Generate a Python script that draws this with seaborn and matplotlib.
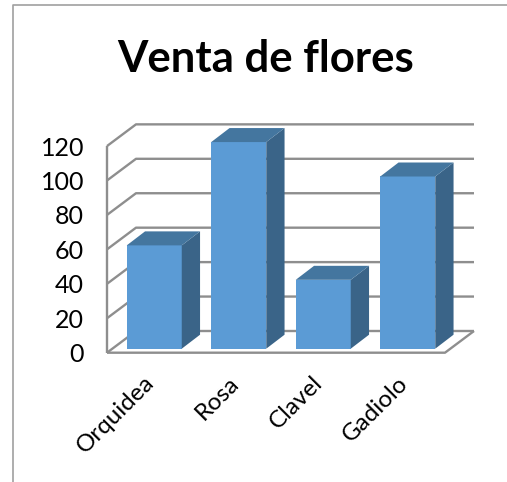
import matplotlib
matplotlib.use("Agg")
import matplotlib.pyplot as plt
from matplotlib.lines import Line2D
from matplotlib.patches import Polygon
from matplotlib.transforms import ScaledTranslation
import numpy as np
import pandas as pd
import seaborn as sns

categories = ["Orquidea", "Rosa", "Clavel", "Gadiolo"]
values = [60, 120, 40, 100]
y_ticks = [0, 20, 40, 60, 80, 100, 120]
title_text = "Venta de flores"

FRONT = "#5B9BD5"
TOP = "#44769F"
SIDE = "#3A6488"
GRID = "#8E8E8E"
FRAME = "#A0A0A0"

W, H = 507, 482
PX_X = 84.5    # pixels per category
PX_Y = 1.722   # pixels per value unit
AX_L, AX_R, AX_B, AX_T = 107, 474, 352.7, 124.3

sns.set_theme(style="white")
plt.rcParams["font.family"] = ["Lato", "DejaVu Sans"]

fig = plt.figure(figsize=(W / 100, H / 100), dpi=100)
ax = fig.add_axes([AX_L / W, 1 - AX_B / H, (AX_R - AX_L) / W, (AX_B - AX_T) / H])

df = pd.DataFrame({"flor": categories, "venta": values})
sns.barplot(data=df, x="flor", y="venta", color=FRONT, saturation=1, width=55 / PX_X,
            ax=ax, zorder=3, linewidth=0)

x_front_l = -0.5
x_front_r = len(categories) - 0.5
wall_dx = 29 / PX_X
wall_dy = 21.7 / PX_Y
ax.set_xlim(x_front_l, x_front_l + (AX_R - AX_L) / PX_X)
ax.set_ylim(0, (AX_B - AX_T) / PX_Y)

line = dict(color=GRID, lw=1.7, zorder=1, clip_on=False, solid_capstyle="butt")
for t in y_ticks:
    ax.plot([x_front_l, x_front_l + wall_dx, x_front_l + wall_dx + x_front_r - x_front_l],
            [t, t + wall_dy, t + wall_dy], **line)
# left edge and floor
ax.plot([x_front_l, x_front_l], [0, max(y_ticks)], **line)
ax.plot([x_front_l, x_front_r, x_front_r + wall_dx], [0, 0, wall_dy], **line)

# extruded bars
shift_x, shift_y = 5 / PX_X, 4 / PX_Y
depth_x, depth_y = 18.3 / PX_X, 14 / PX_Y
for p in ax.patches:
    p.set_x(p.get_x() + shift_x)
    p.set_y(p.get_y() + shift_y)
    x0, y0, w, h = p.get_x(), p.get_y(), p.get_width(), p.get_height()
    x1, y1 = x0 + w, y0 + h
    ax.add_patch(Polygon([(x1, y0), (x1 + depth_x, y0 + depth_y), (x1 + depth_x, y1 + depth_y), (x1, y1)],
                         closed=True, fc=SIDE, ec="none", zorder=3))
    ax.add_patch(Polygon([(x0, y1), (x0 + depth_x, y1 + depth_y), (x1 + depth_x, y1 + depth_y), (x1, y1)],
                         closed=True, fc=TOP, ec="none", zorder=3))

sns.despine(ax=ax, left=True, bottom=True)
ax.set_xlabel("")
ax.set_ylabel("")
ax.set_yticks(y_ticks)
ax.set_xticks(range(len(categories)))
ax.set_xticklabels(categories, rotation=45, ha="right", rotation_mode="anchor")
ax.tick_params(axis="y", length=0, pad=16.5, labelsize=18, labelcolor="black")
ax.tick_params(axis="x", length=0, pad=14, labelsize=17.5, labelcolor="black")
label_shift = ScaledTranslation(-6 / 100, 0, fig.dpi_scale_trans)
for lab in ax.get_xticklabels():
    lab.set_transform(lab.get_transform() + label_shift)

fig.text(265.5 / W, 1 - 59 / H, title_text, ha="center", va="center",
         fontsize=31.5, fontweight="bold", color="black")

# chart-area frame (top and left only, as cropped)
fig.add_artist(Line2D([13 / W, 13 / W, 1], [0, 1 - 5.3 / H, 1 - 5.3 / H], color=FRAME, lw=1.2))

fig.savefig("out.png", dpi=100, facecolor="white")
